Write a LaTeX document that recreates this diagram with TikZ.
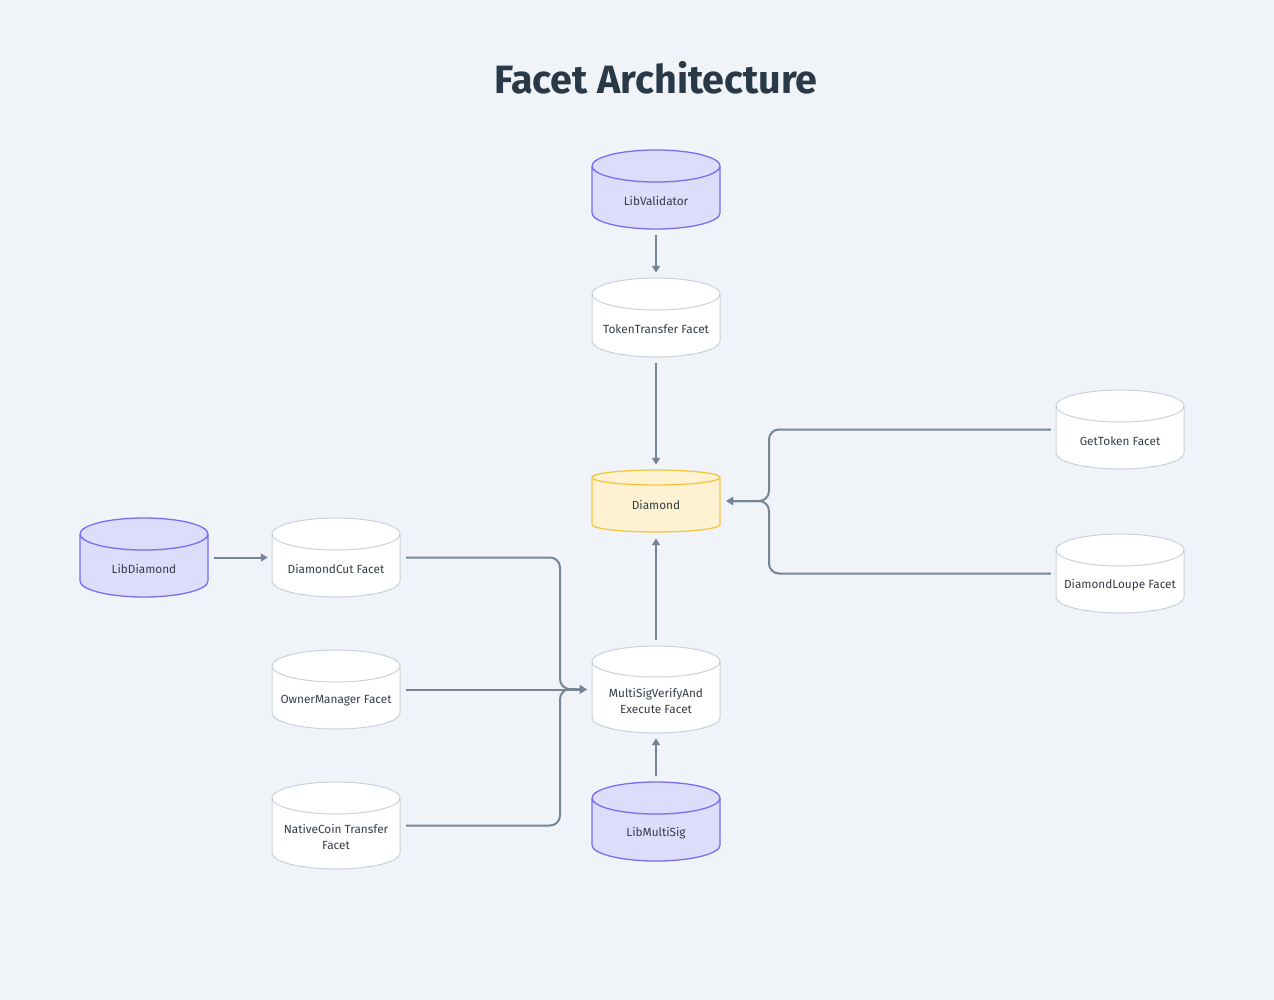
\documentclass[tikz,border=0pt]{standalone}
\usepackage{fontspec}
\setmainfont{Fira Sans}
\usetikzlibrary{arrows.meta,calc}
\definecolor{bg}{HTML}{F0F3F7}
\definecolor{edgec}{HTML}{758595}
\definecolor{libfill}{HTML}{DDDCFB}
\definecolor{libdraw}{HTML}{7B6CF0}
\definecolor{whdraw}{HTML}{C9D1DB}
\definecolor{diafill}{HTML}{FEF2D2}
\definecolor{diadraw}{HTML}{F4C542}
\definecolor{txt}{HTML}{333D49}
\definecolor{titlec}{HTML}{2A3947}
\tikzset{
  libcyl/.style={fill=libfill,draw=libdraw,line width=1.3pt},
  whcyl/.style={fill=white,draw=whdraw,line width=1pt},
  diacyl/.style={fill=diafill,draw=diadraw,line width=1.3pt},
  body/.style={draw=none,rectangle,inner sep=0pt,minimum width=128pt},
  lbl/.style={text=txt,font=\fontsize{11.8}{16}\selectfont,align=center,inner sep=0pt},
  titlest/.style={text=titlec,font=\fontsize{39.5}{44}\selectfont\bfseries,inner sep=0pt},
  edge/.style={draw=edgec,line width=2pt,rounded corners=10pt,-{Triangle[length=7pt,width=8pt]}},
}
\newcommand\mkcyl[6]{%
  \path[#6] (#2-64,#3+#5) -- (#2-64,#4-#5) arc[start angle=180,end angle=360,x radius=64pt,y radius=#5pt] -- (#2+64,#3+#5) arc[start angle=0,end angle=180,x radius=64pt,y radius=#5pt] -- cycle;
  \draw[#6,fill=none] (#2-64,#3+#5) arc[start angle=180,end angle=360,x radius=64pt,y radius=#5pt];
  \node[body,minimum height={(#4-#3)*1pt}] (#1) at (#2,{(#3+#4)/2}) {};
}
\begin{document}
\begin{tikzpicture}[x=1pt,y=-1pt]
\fill[bg] (0,0) rectangle (1274,1000);
\useasboundingbox (0,0) rectangle (1274,1000);

\node[titlest] (title) at (656,78) {Facet Architecture};

\mkcyl{ltv}{656}{150}{229}{16}{libcyl}
\mkcyl{tt}{656}{278}{357}{16}{whcyl}
\mkcyl{dia}{656}{470}{532}{7.5}{diacyl}
\mkcyl{ms}{656}{646}{733}{15.5}{whcyl}
\mkcyl{lms}{656}{782}{861}{16}{libcyl}
\mkcyl{gt}{1120}{390}{469}{16}{whcyl}
\mkcyl{ld}{1120}{534}{613}{16}{whcyl}
\mkcyl{libd}{144}{518}{597}{16}{libcyl}
\mkcyl{dc}{336}{518}{597}{16}{whcyl}
\mkcyl{om}{336}{650}{729}{16}{whcyl}
\mkcyl{nc}{336}{782}{869}{16}{whcyl}

\node[lbl] (ltv-t) at (656,201) {LibValidator};
\node[lbl] (tt-t) at (656,329) {TokenTransfer Facet};
\node[lbl] (dia-t) at (656,505) {Diamond};
\node[lbl] (ms-t) at (656,701) {MultiSigVerifyAnd\\Execute Facet};
\node[lbl] (lms-t) at (656,833) {LibMultiSig};
\node[lbl] (gt-t) at (1120,441) {GetToken Facet};
\node[lbl] (ld-t) at (1120,585) {DiamondLoupe Facet};
\node[lbl] (libd-t) at (144,569) {LibDiamond};
\node[lbl] (dc-t) at (336,569) {DiamondCut Facet};
\node[lbl] (om-t) at (336,701) {OwnerManager Facet};
\node[lbl] (nc-t) at (336,837) {NativeCoin Transfer\\Facet};

\coordinate (jr) at (769,501);
\coordinate (jl) at (560,689);

\draw[edge,shorten <=6pt,shorten >=5pt] (ltv.south) -- (tt.north);
\draw[edge,shorten <=6pt,shorten >=5pt] (tt.south) -- (dia.north);
\draw[edge,shorten <=6pt,shorten >=6pt] (ms.north) -- (dia.south);
\draw[edge,shorten <=6pt,shorten >=5pt] (lms.north) -- (ms.south);
\draw[edge,shorten <=5pt,shorten >=6pt] (gt.west) -| (jr) -- (dia.east);
\draw[edge,shorten <=5pt,shorten >=6pt] (ld.west) -| (jr) -- (dia.east);
\draw[edge,shorten <=6pt,shorten >=4pt] (libd.east) -- (dc.west);
\draw[edge,shorten <=6pt,shorten >=5pt] (dc.east) -| (jl) -- (ms.west);
\draw[edge,shorten <=6pt,shorten >=5pt] (om.east) -- (ms.west);
\draw[edge,shorten <=6pt,shorten >=5pt] (nc.east) -| (jl) -- (ms.west);
\end{tikzpicture}
\end{document}
